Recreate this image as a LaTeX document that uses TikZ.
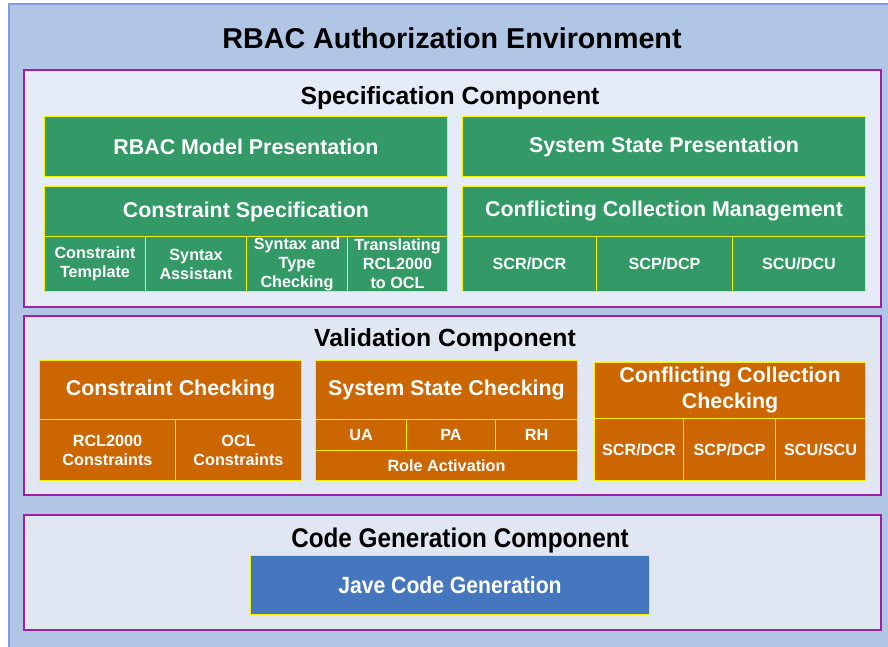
\documentclass[tikz,border=0pt]{standalone}
\usepackage{fontspec}
\setmainfont{Liberation Sans}
\newfontfamily\narrowfont[FakeStretch=0.9]{Liberation Sans}
\definecolor{envfill}{HTML}{B1C6E5}
\definecolor{envline}{HTML}{7F9FD6}
\definecolor{compfillA}{HTML}{E6ECF7}
\definecolor{compfillB}{HTML}{E1E7F2}
\definecolor{compline}{HTML}{A0209F}
\definecolor{greencell}{HTML}{339966}
\definecolor{orangecell}{HTML}{CC6600}
\definecolor{bluecell}{HTML}{4677BE}
\definecolor{cellline}{HTML}{F2F200}
\tikzset{
  comp/.style={draw=compline, line width=1.3pt},
  cell/.style={draw=cellline, line width=1pt, anchor=north west, inner sep=0pt,
    align=center, text=white, font=\bfseries\fontsize{16.2}{19}\selectfont},
  bigcell/.style={cell, font=\bfseries\fontsize{21.4}{26}\selectfont},
  gcell/.style={cell, fill=greencell},
  gbig/.style={bigcell, fill=greencell},
  ocell/.style={cell, fill=orangecell},
  obig/.style={bigcell, fill=orangecell},
  comptitle/.style={font=\bfseries\fontsize{24.8}{28}\selectfont, inner sep=0pt, anchor=base},
  wh/.style 2 args={minimum width=#1pt, minimum height=#2pt},
}
\begin{document}
\begin{tikzpicture}[x=1pt,y=-1pt]
\useasboundingbox (0,0) rectangle (888,646);
% environment frame
\draw[fill=envfill, draw=envline, line width=1.2pt] (9,4) rectangle (905,665);
\node[font=\bfseries\fontsize{28.7}{32}\selectfont, inner sep=0pt, anchor=base] (envtitle) at (452,48) {RBAC Authorization Environment};

% component frames
\draw[comp, fill=compfillA] (24,70) rectangle (881,307);
\draw[comp, fill=compfillB] (24,316) rectangle (881,495);
\draw[comp, fill=compfillB] (24,515) rectangle (881,630);

\node[comptitle] (spectitle) at (450,104) {Specification Component};
\node[comptitle] (valtitle) at (445,346) {Validation Component};
\node[comptitle, font=\narrowfont\bfseries\fontsize{27}{30}\selectfont] (codetitle) at (460,547) {Code Generation Component};

% specification component
\node[gbig, wh={403}{60}] (rbacmodel) at (44,116) {RBAC Model Presentation};
\node[gbig, wh={403}{60}] (sysstate) at (462,116) {System State Presentation};

\node[gbig, wh={403}{50}] (conspec) at (44,186) {Constraint Specification};
\node[gcell, wh={101}{55}] (ctemplate) at (44,236) {Constraint\\Template};
\node[gcell, wh={101}{55}] (sassist) at (145,236) {Syntax\\Assistant};
\node[gcell, wh={101}{55}] (stcheck) at (246,236) {Syntax and\\Type\\Checking};
\node[gcell, wh={100}{55}] (transl) at (347,236) {Translating\\RCL2000\\to OCL};

\node[gbig, wh={403}{50}] (ccmanage) at (462,186) {Conflicting Collection Management};
\node[gcell, wh={134}{55}] (mscr) at (462,236) {SCR/DCR};
\node[gcell, wh={136}{55}] (mscp) at (596,236) {SCP/DCP};
\node[gcell, wh={133}{55}] (mscu) at (732,236) {SCU/DCU};

% validation component
\node[obig, wh={262}{59}] (conchk) at (39,360) {Constraint Checking};
\node[ocell, wh={136}{61}] (rclcons) at (39,419) {RCL2000\\Constraints};
\node[ocell, wh={126}{61}] (oclcons) at (175,419) {OCL\\Constraints};

\node[obig, wh={262}{59}] (sschk) at (315,360) {System State Checking};
\node[ocell, wh={91}{31}] (ua) at (315,419) {UA};
\node[ocell, wh={89}{31}] (pa) at (406,419) {PA};
\node[ocell, wh={82}{31}] (rh) at (495,419) {RH};
\node[ocell, wh={262}{30}] (roleact) at (315,450) {Role Activation};

\node[obig, wh={271}{56}] (ccchk) at (594,362) {Conflicting Collection\\Checking};
\node[ocell, wh={89}{62}] (vscr) at (594,418) {SCR/DCR};
\node[ocell, wh={92}{62}] (vscp) at (683,418) {SCP/DCP};
\node[ocell, wh={90}{62}] (vscu) at (775,418) {SCU/SCU};

% code generation component
\node[cell, fill=bluecell, wh={399}{59}, font=\narrowfont\bfseries\fontsize{23.5}{26}\selectfont] (javagen) at (250,555) {Jave Code Generation};
\end{tikzpicture}
\end{document}
